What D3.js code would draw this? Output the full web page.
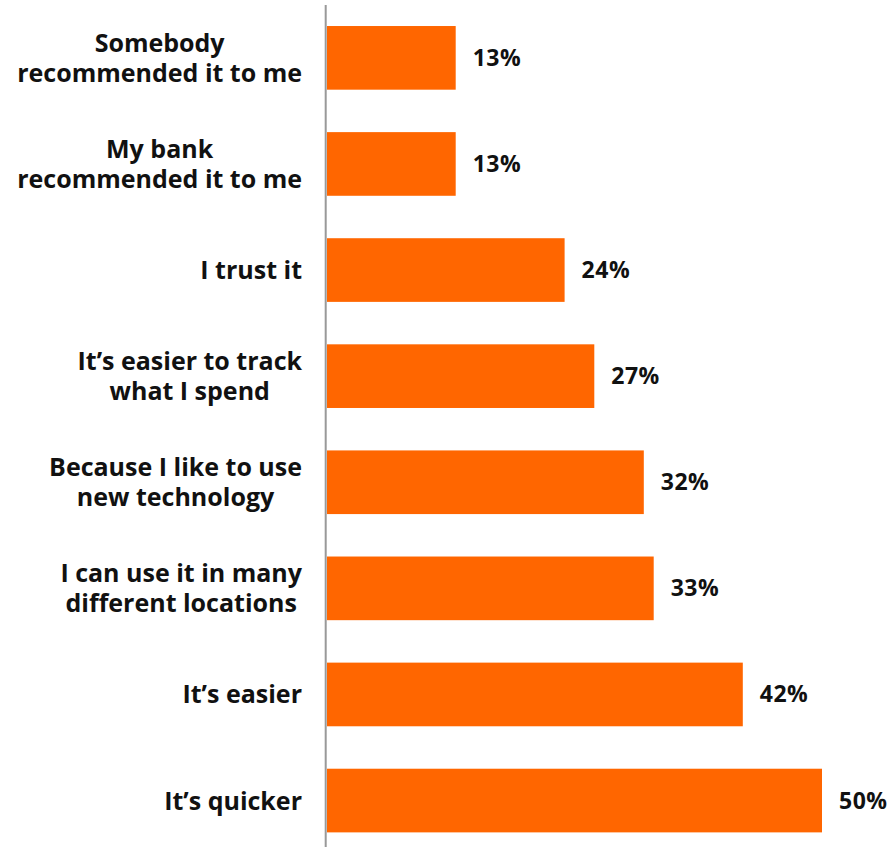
<!DOCTYPE html>
<html>
<head>
<meta charset="utf-8">
<script src="https://cdn.jsdelivr.net/npm/d3@7"></script>
<style>
  html, body { margin: 0; padding: 0; background: #fff; }
  svg { display: block; }
  text { font-family: "Open Sans", "Noto Sans", sans-serif; font-weight: 700; fill: #111; }
</style>
</head>
<body>
<svg id="chart" width="893" height="847"></svg>
<script>
// Reasons given for choosing the payment method (share of respondents, %)
const categories = [
  ["Somebody", "recommended it to me"],
  ["My bank", "recommended it to me"],
  ["I trust it"],
  ["It\u2019s easier to track", "what I spend"],
  ["Because I like to use", "new technology"],
  ["I can use it in many", "different locations"],
  ["It\u2019s easier"],
  ["It\u2019s quicker"]
];
const values = [13, 13, 24, 27, 32, 33, 42, 50];
const valueLabels = ["13%", "13%", "24%", "27%", "32%", "33%", "42%", "50%"];

const svg = d3.select("#chart");
const x = d3.scaleLinear().domain([0, 50]).range([327, 822]);
const y = d3.scaleBand()
  .domain(d3.range(values.length))
  .range([4.8, 853.6])
  .paddingInner(0.4)
  .paddingOuter(0.2);

// bars
svg.append("g").selectAll("rect")
  .data(values)
  .join("rect")
  .attr("x", x(0))
  .attr("y", (d, i) => y(i))
  .attr("width", d => x(d) - x(0))
  .attr("height", y.bandwidth())
  .attr("fill", "#ff6600");

// value labels
svg.append("g").selectAll("text")
  .data(values)
  .join("text")
  .attr("x", d => x(d) + 17)
  .attr("y", (d, i) => y(i) + y.bandwidth() / 2 + 8)
  .attr("font-size", 23)
  .attr("letter-spacing", 0.5)
  .text((d, i) => valueLabels[i]);

// category labels: lines centred on each other, block right-aligned to the axis
const lineH = 30;
const rightEdge = 302;
const cat = svg.append("g").selectAll("text")
  .data(categories)
  .join("text")
  .attr("text-anchor", "middle")
  .attr("font-size", 25);
cat.each(function(lines, i) {
  const el = d3.select(this);
  const cy = y(i) + y.bandwidth() / 2 + 9;
  const top = cy - (lines.length - 1) * lineH / 2;
  const spans = el.selectAll("tspan")
    .data(lines)
    .join("tspan")
    .attr("y", (l, j) => top + j * lineH)
    .text(l => l);
  let maxW = 0;
  spans.each(function() { maxW = Math.max(maxW, this.getComputedTextLength()); });
  spans.attr("x", rightEdge - maxW / 2);
});

// vertical axis line
svg.append("line")
  .attr("x1", 325.7).attr("x2", 325.7)
  .attr("y1", 5).attr("y2", 847)
  .attr("stroke", "#999")
  .attr("stroke-width", 2);
</script>
</body>
</html>
